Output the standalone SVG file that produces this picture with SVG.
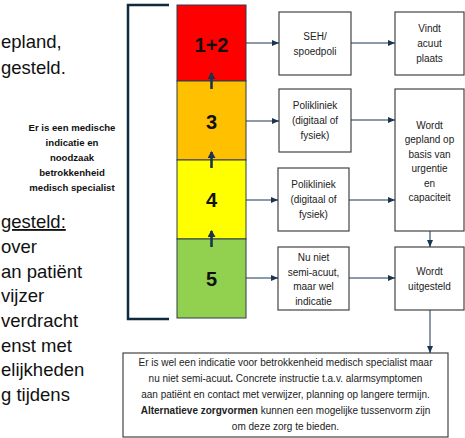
<svg xmlns="http://www.w3.org/2000/svg" width="465" height="438" viewBox="0 0 465 438">
<style>
.big{font-family:"Liberation Sans",Arial,sans-serif;font-size:18.5px;fill:#111}
.lbl{font-family:"Liberation Sans",Arial,sans-serif;font-size:9.6px;font-weight:bold;fill:#111;text-anchor:middle}
.num{font-family:"Liberation Sans",Arial,sans-serif;font-size:20px;font-weight:bold;fill:#111;text-anchor:middle}
.bt{font-family:"Liberation Sans",Arial,sans-serif;font-size:10px;fill:#222;text-anchor:middle}
.bx{fill:#fff;stroke:#444;stroke-width:1.2}
.ar{stroke:#1b3550;stroke-width:1;fill:none;marker-end:url(#ah)}
.up{stroke:#1b3550;stroke-width:2.6;fill:none;marker-end:url(#uh)}
.seg{stroke:#2e3d48;stroke-width:1}
</style>
<defs>
<marker id="ah" markerUnits="userSpaceOnUse" markerWidth="7" markerHeight="6" refX="7" refY="3" orient="auto"><path d="M0,0 L7,3 L0,6 Z" fill="#1b3550"/></marker>
<marker id="uh" markerUnits="userSpaceOnUse" markerWidth="7" markerHeight="8" refX="6" refY="4" orient="auto"><path d="M0,0 L7,4 L0,8 Z" fill="#1b3550"/></marker>
</defs>

<g id="left-text">
<text class="big" x="1" y="48">epland,</text>
<text class="big" x="1" y="74">gesteld.</text>
<text class="big" x="1" y="228" text-decoration="underline">gesteld:</text>
<text class="big" x="1" y="253">over</text>
<text class="big" x="1" y="278">an patiënt</text>
<text class="big" x="1" y="302">vijzer</text>
<text class="big" x="1" y="327">verdracht</text>
<text class="big" x="1" y="352">enst met</text>
<text class="big" x="1" y="376">elijkheden</text>
<text class="big" x="1" y="401">g tijdens</text>
</g>

<g id="indicatie-label">
<text class="lbl" x="72" y="131">Er is een medische</text>
<text class="lbl" x="72" y="146">indicatie en</text>
<text class="lbl" x="72" y="161">noodzaak</text>
<text class="lbl" x="72" y="176">betrokkenheid</text>
<text class="lbl" x="72" y="191">medisch specialist</text>
</g>

<g id="bracket"><path d="M169,5 H128 V319 H169" fill="none" stroke="#0d2a3f" stroke-width="2.5"/></g>

<g id="level-12"><rect x="177" y="5" width="69" height="76" fill="#ff0000" class="seg"/><text class="num" x="211.5" y="52">1+2</text></g>
<g id="level-3"><rect x="177" y="81" width="69" height="79" fill="#ffc000" class="seg"/><text class="num" x="211.5" y="129">3</text></g>
<g id="level-4"><rect x="177" y="160" width="69" height="79" fill="#ffff00" class="seg"/><text class="num" x="211.5" y="207">4</text></g>
<g id="level-5"><rect x="177" y="239" width="69" height="79" fill="#92d050" class="seg"/><text class="num" x="211.5" y="286">5</text></g>

<g id="seh"><rect class="bx" x="279" y="12" width="72" height="63"/><text class="bt" x="315" y="40">SEH/</text><text class="bt" x="315" y="55">spoedpoli</text></g>
<g id="vindt"><rect class="bx" x="395" y="12" width="69" height="63"/><text class="bt" x="429.5" y="32">Vindt</text><text class="bt" x="429.5" y="47">acuut</text><text class="bt" x="429.5" y="62">plaats</text></g>
<g id="poli1"><rect class="bx" x="279" y="89" width="72" height="63"/><text class="bt" x="315" y="109">Polikliniek</text><text class="bt" x="315" y="124">(digitaal of</text><text class="bt" x="315" y="139">fysiek)</text></g>
<g id="gepland"><rect class="bx" x="395" y="89" width="69" height="142"/>
<text class="bt" x="429.5" y="128.5">Wordt</text><text class="bt" x="429.5" y="143">gepland op</text><text class="bt" x="429.5" y="157.5">basis van</text><text class="bt" x="429.5" y="172">urgentie</text><text class="bt" x="429.5" y="186.5">en</text><text class="bt" x="429.5" y="201">capaciteit</text></g>
<g id="poli2"><rect class="bx" x="278" y="168" width="71" height="63"/><text class="bt" x="313.5" y="188">Polikliniek</text><text class="bt" x="313.5" y="203">(digitaal of</text><text class="bt" x="313.5" y="218">fysiek)</text></g>
<g id="nuniet"><rect class="bx" x="278" y="247" width="71" height="63"/><text class="bt" x="313.5" y="261">Nu niet</text><text class="bt" x="313.5" y="275.5">semi-acuut,</text><text class="bt" x="313.5" y="290">maar wel</text><text class="bt" x="313.5" y="304.5">indicatie</text></g>
<g id="uitgesteld"><rect class="bx" x="395" y="247" width="69" height="63"/><text class="bt" x="429.5" y="275">Wordt</text><text class="bt" x="429.5" y="290">uitgesteld</text></g>

<g id="toelichting"><rect class="bx" x="123" y="353" width="325" height="84"/>
<text class="bt" x="285.5" y="366">Er is wel een indicatie voor betrokkenheid  medisch specialist maar</text>
<text class="bt" x="285.5" y="382">nu niet semi-acuut<tspan font-weight="bold">.</tspan> Concrete instructie t.a.v. alarmsymptomen</text>
<text class="bt" x="285.5" y="398">aan patiënt en contact met verwijzer, planning op langere termijn.</text>
<text class="bt" x="285.5" y="414"><tspan font-weight="bold">Alternatieve zorgvormen</tspan> kunnen een mogelijke tussenvorm zijn</text>
<text class="bt" x="285.5" y="430">om deze zorg te bieden.</text>
</g>

<g id="connectors">
<line class="up" x1="211.5" y1="89" x2="211.5" y2="73"/>
<line class="up" x1="211.5" y1="168" x2="211.5" y2="152"/>
<line class="up" x1="211.5" y1="247" x2="211.5" y2="231"/>
<line class="ar" x1="246" y1="43" x2="279" y2="43"/>
<line class="ar" x1="246" y1="121" x2="279" y2="121"/>
<line class="ar" x1="246" y1="200" x2="278" y2="200"/>
<line class="ar" x1="246" y1="278" x2="278" y2="278"/>
<line class="ar" x1="351" y1="43" x2="395" y2="43"/>
<line class="ar" x1="351" y1="120" x2="395" y2="120"/>
<line class="ar" x1="349" y1="200" x2="395" y2="200"/>
<line class="ar" x1="349" y1="278" x2="395" y2="278"/>
<line class="ar" x1="430" y1="231" x2="430" y2="247"/>
<line class="ar" x1="430" y1="310" x2="430" y2="353"/>
</g>
</svg>
